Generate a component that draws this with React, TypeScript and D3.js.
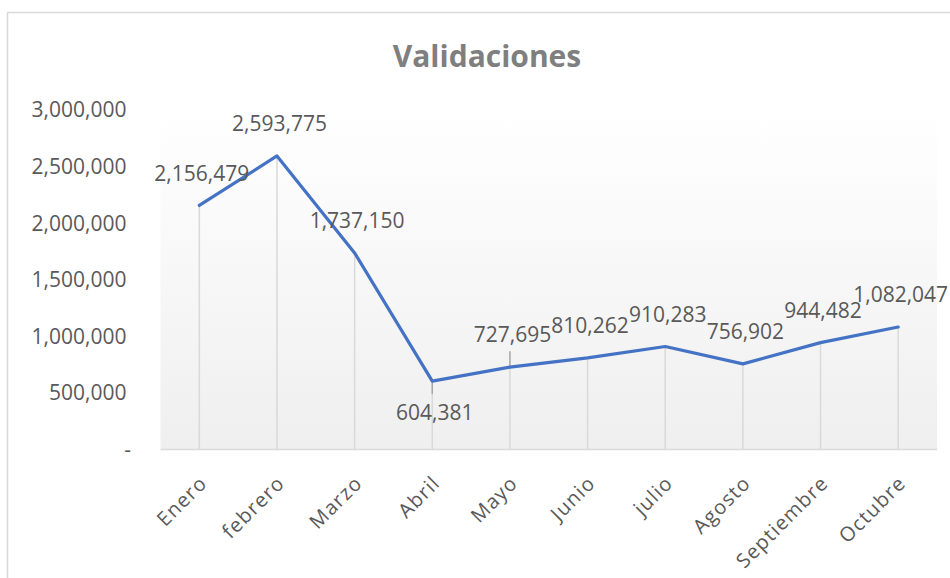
import React from "react";
import * as d3 from "d3";

const categories = ["Enero", "febrero", "Marzo", "Abril", "Mayo", "Junio", "julio", "Agosto", "Septiembre", "Octubre"];
const values = [2156479, 2593775, 1737150, 604381, 727695, 810262, 910283, 756902, 944482, 1082047];
const yTicks = [0, 500000, 1000000, 1500000, 2000000, 2500000, 3000000];
const labelBelow = ["Abril"];
const title = "Validaciones";

const W = 950;
const H = 578;
const plot = { left: 160.5, right: 937, top: 110, bottom: 449.5 };
const FONT = "'Open Sans', 'Noto Sans', sans-serif";

export default function App() {
  const x = d3.scaleBand<string>().domain(categories).range([plot.left, plot.right]).padding(0);
  const y = d3.scaleLinear().domain([0, 3000000]).range([plot.bottom, plot.top]);
  const cx = (c: string) => (x(c) as number) + x.bandwidth() / 2;
  const fmt = d3.format(",");
  const line = d3
    .line<number>()
    .x((_, i) => cx(categories[i]))
    .y((d) => y(d));

  return (
    <svg width={W} height={H} style={{ position: "absolute", left: 0, top: 0, background: "#fff" }}>
      <defs>
        <linearGradient id="pg" x1="0" y1="0" x2="0" y2="1">
          <stop offset="0" stopColor="#ffffff" />
          <stop offset="1" stopColor="#efefef" />
        </linearGradient>
      </defs>
      <rect x={7.5} y={12.5} width={W + 20} height={H + 20} fill="#fff" stroke="#d9d9d9" strokeWidth={1.5} />
      <text x={487} y={67} textAnchor="middle" fontFamily={FONT} fontWeight="bold" fontSize={30} fill="#7f7f7f">
        {title}
      </text>
      <rect x={plot.left} y={plot.top} width={plot.right - plot.left} height={plot.bottom - plot.top} fill="url(#pg)" />
      {/* drop lines */}
      {categories.map((c, i) => (
        <line key={"d" + c} x1={cx(c)} x2={cx(c)} y1={y(values[i])} y2={plot.bottom} stroke="#d9d9d9" strokeWidth={1.5} />
      ))}
      {/* axis line */}
      <line x1={plot.left} x2={plot.right} y1={plot.bottom} y2={plot.bottom} stroke="#d9d9d9" strokeWidth={1.5} />
      {/* y tick labels */}
      {yTicks.map((t) => (
        <text
          key={"y" + t}
          x={t === 0 ? 131 : 126.5}
          y={y(t)}
          dy="0.35em"
          textAnchor="end"
          fontFamily={FONT}
          fontSize={21}
          fill="#595959"
        >
          {t === 0 ? "-" : fmt(t)}
        </text>
      ))}
      {/* x labels */}
      {categories.map((c) => (
        <text
          key={"x" + c}
          transform={`translate(${cx(c) + 4},${plot.bottom + 30}) rotate(-45)`}
          textAnchor="end"
          dy="0.35em"
          fontFamily={FONT}
          fontSize={20}
          letterSpacing={1.2}
          fill="#595959"
        >
          {c}
        </text>
      ))}
      {/* leader lines */}
      <line x1={cx("Mayo")} x2={cx("Mayo")} y1={y(values[4]) - 16} y2={y(values[4])} stroke="#a6a6a6" strokeWidth={1.5} />
      <line x1={cx("Abril")} x2={cx("Abril")} y1={y(values[3])} y2={y(values[3]) + 13} stroke="#a6a6a6" strokeWidth={1.5} />
      {/* series line */}
      <path d={line(values) || ""} fill="none" stroke="#4472c4" strokeWidth={3.2} strokeLinejoin="round" strokeLinecap="round" />
      {/* data labels */}
      {categories.map((c, i) => {
        const below = labelBelow.includes(c);
        return (
          <text
            key={"l" + c}
            x={cx(c) + 2.5}
            y={y(values[i]) + (below ? 31.5 : -32)}
            dy="0.35em"
            textAnchor="middle"
            fontFamily={FONT}
            fontSize={21}
            fill="#595959"
          >
            {fmt(values[i])}
          </text>
        );
      })}
    </svg>
  );
}
